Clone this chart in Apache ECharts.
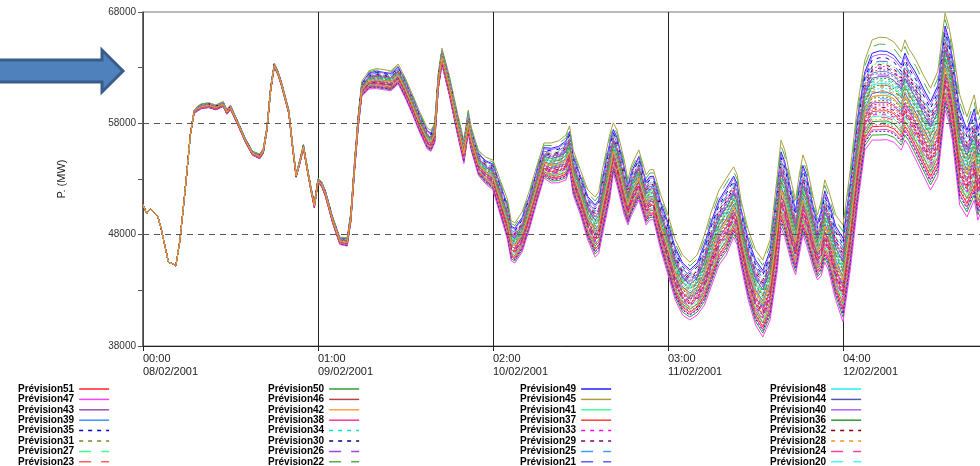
<!DOCTYPE html>
<html><head><meta charset="utf-8">
<script src="https://cdn.jsdelivr.net/npm/echarts@6/dist/echarts.min.js"></script>
<style>html,body{margin:0;padding:0;background:#fff}#c{width:980px;height:466px}</style>
</head><body><div id="c"></div><script>
// time in hours since 08/02/2001 00:00
const hours = [0,0.5,1,1.5,2,2.5,3,3.5,4,4.5,5,5.5,6,6.5,7,7.5,8,9,10,11,11.5,12,12.5,13,14,15,16,16.5,17,17.5,18,18.5,19,20,20.5,21,21.5,22,22.5,23,23.5,
24,24.5,25,26,27,28,28.5,29,29.5,30,31,32,33,34,35,36,37,38,39,39.5,40,40.5,41,41.5,42,43,44,44.6,45,46,47,
48,49,50,50.5,51,52,53,54,55,56,57,58,58.5,59,60,61,62,62.5,63,64,64.5,65,66,66.5,67,68,69,69.5,70,71,
72,73,74,75,76,77,78,79,80,81,81.5,82,83,84,85,86,87,87.5,88,89,89.5,90,90.5,91,92,92.5,93,93.5,94,95,
96,97,98,99,100,101,102,103,104,104.5,105,106,107,108,109,110,110.5,111,112,113,114,114.5,115,116,117,118,119,120];
// ensemble centre (MW)
const center = [50700,49900,50300,50000,49700,48500,47000,45500,45400,45200,47200,50200,53500,57000,59000,59300,59500,59600,59400,59700,59000,59400,58700,58000,56500,55300,55000,55500,57500,61000,63200,62500,61500,59000,56000,53300,54500,55900,54000,52200,50600,
52800,52500,51700,49300,47400,47300,49500,54000,58000,61000,61800,61900,61800,61700,62300,61000,59500,57900,56500,56300,57000,61700,63900,62600,61300,58200,55300,58000,56500,54300,53600,
53170,51120,49080,47200,47020,48000,50000,52300,54450,54200,54300,54660,55530,53310,51510,49470,48330,48700,50500,53650,55490,54600,51900,50630,51700,53060,50820,51270,51300,48770,
46720,44470,43120,42590,43120,44410,46390,48190,49170,50520,49800,47810,44860,42810,41800,43460,48540,52020,51200,48400,47290,49300,51090,50200,47550,46470,47200,48740,47950,45440,
43930,48730,54560,59110,60400,60500,60500,60200,59420,60400,59800,58610,57260,55980,57300,62970,61900,60200,54950,53490,55200,53400,54300,53000,52500,53500,52000,51500];
// ensemble spread scale (MW)
const spread = [0,0,0,0,0,0,0,0,0,0,0,0,0,30,100,150,150,150,150,150,150,150,120,120,120,120,150,150,120,120,120,120,120,120,120,120,120,120,120,120,150,
150,150,180,200,220,250,280,320,380,450,550,600,600,600,600,600,600,620,630,630,600,500,500,550,600,650,700,700,700,750,800,
900,1040,1200,1200,1200,1200,1150,1100,1050,1200,1250,1350,1320,1350,1340,1500,1800,1850,1950,1950,1500,1650,1650,1350,1500,1500,1500,1500,1500,1650,
1800,1800,1800,1730,1800,2100,2240,2240,2300,2100,2100,1950,2100,2250,2300,2400,2850,2630,2600,2400,2240,2400,2400,2400,2090,1950,2240,2460,2400,2550,
2900,3000,3000,2700,3000,3080,3050,3000,2940,3000,2900,3000,3000,3050,3150,2900,2850,2850,3300,3000,3150,3150,3150,3100,3100,3100,3100,3100];
// members, in drawing order, and their position inside the ensemble
const members = [51,50,49,48,47,46,45,44,43,42,41,40,39,38,37,36,35,34,33,32,31,30,29,28,27,26,25,24,23,22,21,20,19,18,17,16,15,14,13,12,11,10,9,8,7,6,5,4,3,2,1];
const memberOffset = [-0.9,-1.15,1.3,0.35,-1.3,0.1,1.7,0.55,-0.2,0.0,-0.6,1.2,0.7,-1.0,-0.45,-0.75,1.1,0.45,-0.55,0.9,0.25,0.8,-0.35,0.15,-0.8,0.6,-0.1,-0.65,0.3,1.5,1.0,0.05,-0.25,0.5,-1.05,0.2,0.85,-0.15,0.4,-0.5,0.65,-0.7,0.95,-0.3,0.1,-0.85,0.75,-0.05,-0.4,0.3,0.0];
const dayLabels = ['00:00\n08/02/2001','01:00\n09/02/2001','02:00\n10/02/2001','03:00\n11/02/2001','04:00\n12/02/2001','05:00\n13/02/2001'];
const legendColumns = [[51,47,43,39,35,31,27,23],[50,46,42,38,34,30,26,22],[49,45,41,37,33,29,25,21],[48,44,40,36,32,28,24,20]];

const solidColors = ['#ff2020','#30a030','#2020ff','#20f0f0','#ff40ff','#b04848','#a8a040','#5858b0','#a050b0','#ffa040','#40ffa0','#b060ff','#4090ff','#ff3890','#ff4040','#309830'];
const dashColors = ['#0000d0','#00e0e0','#ff00ff','#800000','#808020','#000090','#800080','#ff9020'];
const longColors = ['#40ff90','#a040ff','#40a0ff','#ff40a0','#ff6060','#50b050','#6060ff','#40ffff'];
function styleFor(i){
  if (i < 16) return {color: solidColors[i], type: 'solid'};
  if (i < 24) return {color: dashColors[i-16], type: [4,5]};
  if (i < 32) return {color: longColors[i-24], type: [12,10]};
  if (i === 50) return {color: '#ff9933', type: 'solid'};
  return {color: solidColors[(i-32) % 16], type: [2,2]};
}
const name = n => 'Prévision' + n;
const series = members.map((m, i) => {
  const st = styleFor(i);
  const s = {
    name: name(m), type: 'line', symbol: 'none', silent: true,
    lineStyle: {width: 1, color: st.color, type: st.type},
    itemStyle: {color: st.color},
    data: hours.map((h, k) => [h, center[k] + spread[k] * memberOffset[i]])
  };
  if (i === 0) {
    s.markLine = {silent: true, symbol: 'none', label: {show: false},
      lineStyle: {color: '#555', type: [6,5], width: 1},
      data: [{yAxis: 48000}, {yAxis: 58000}]};
  }
  return s;
});
const legends = legendColumns.map((col, j) => ({
  orient: 'vertical', left: [18, 268, 520, 770][j], top: 384, height: 120, padding: 0,
  align: 'right', itemWidth: 30, itemHeight: 8, itemGap: 0.4,
  selectedMode: false,
  itemStyle: {opacity: 0},
  lineStyle: {width: 1.5},
  textStyle: {fontSize: 10, lineHeight: 8, fontWeight: 'bold', fontFamily: 'Liberation Sans, Arial', color: '#000', padding: 0},
  data: col.map(name)
}));
const chart = echarts.init(document.getElementById('c'), null, {renderer: 'canvas'});
chart.setOption({
  animation: false,
  backgroundColor: '#fff',
  grid: {left: 143, top: 12, width: 875, height: 334, outerBoundsMode: 'none', containLabel: false,
    show: true, borderColor: '#777', borderWidth: 1},
  legend: legends,
  graphic: [{
    type: 'polygon', z: 10,
    shape: {points: [[-4,60],[102,60],[102,50],[123,71],[102,92],[102,82],[-4,82]]},
    style: {fill: '#4f81bd', stroke: '#385d8a', lineWidth: 3}
  }],
  xAxis: {
    type: 'value', min: 0, max: 120, interval: 24,
    axisLine: {show: true, lineStyle: {color: '#222', width: 1}},
    axisTick: {show: true, length: 5, lineStyle: {color: '#222'}},
    splitLine: {show: true, lineStyle: {color: '#222', width: 1}},
    axisLabel: {formatter: v => dayLabels[Math.round(v / 24)], align: 'left', fontSize: 11, lineHeight: 13,
      fontFamily: 'Liberation Sans, Arial', color: '#222', margin: 6}
  },
  yAxis: {
    type: 'value', min: 38000, max: 68000, interval: 5000,
    name: 'P. (MW)', nameLocation: 'middle', nameGap: 76, nameRotate: 90,
    nameTextStyle: {fontSize: 11, fontFamily: 'Liberation Sans, Arial', color: '#222'},
    axisLine: {show: true, lineStyle: {color: '#555', width: 1.5}},
    axisTick: {show: true, length: 5, lineStyle: {color: '#555'}},
    splitLine: {show: false},
    axisLabel: {formatter: v => (v % 10000 === 8000 ? String(v) : ''), fontSize: 10,
      fontFamily: 'Liberation Sans, Arial', color: '#333', margin: 7}
  },
  series: series
});
</script></body></html>
